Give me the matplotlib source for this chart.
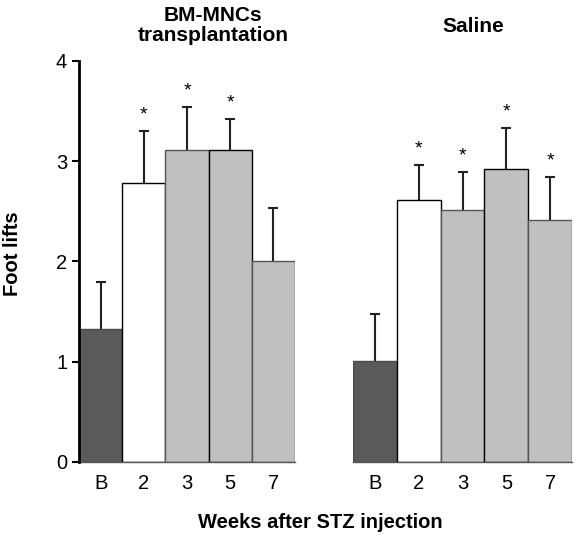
import numpy as np
import matplotlib.pyplot as plt

plt.rcParams['font.family'] = ['Liberation Sans', 'DejaVu Sans']

weeks = ['B', '2', '3', '5', '7']
bmmnc_mean = [1.33, 2.78, 3.11, 3.11, 2.00]
bmmnc_err = [0.47, 0.52, 0.43, 0.31, 0.53]
bmmnc_star = [False, True, True, True, False]
saline_mean = [1.01, 2.61, 2.51, 2.92, 2.41]
saline_err = [0.47, 0.35, 0.38, 0.41, 0.43]
saline_star = [False, True, True, True, True]

bar_colors = ['#5a5a5a', '#ffffff', '#c0c0c0', '#c0c0c0', '#c0c0c0']
edge_colors = ['#4a4a4a', '#000000', '#555555', '#000000', '#555555']

fig = plt.figure(figsize=(5.78, 5.39), dpi=100)
ax1 = fig.add_axes([0.1367, 0.1429, 0.3737, 0.744])
ax2 = fig.add_axes([0.6107, 0.1429, 0.3790, 0.744])


def draw_group(ax, mean, err, star):
    x = np.arange(len(weeks))
    ax.bar(x, mean, width=1.0, color=bar_colors, edgecolor=edge_colors,
           linewidth=1.0, zorder=2)
    eb = ax.errorbar(x, mean, yerr=[np.zeros(len(err)), err], fmt='none',
                     ecolor='#222222', elinewidth=1.5, capsize=3.6,
                     capthick=1.5, zorder=1)
    # only upper whiskers, hide the lower caps
    eb[1][0].set_visible(False)
    for xi, m, e, s in zip(x, mean, err, star):
        if s:
            ax.text(xi, m + e + 0.12, '*', ha='center', va='baseline',
                    fontsize=14)
    ax.set_xlim(-0.5, 4.5)
    ax.set_ylim(0, 4)
    ax.set_xticks(x)
    ax.set_xticklabels(weeks, fontsize=14.5)
    ax.tick_params(axis='x', length=0, pad=9)
    for side in ['top', 'right']:
        ax.spines[side].set_visible(False)
    ax.spines['bottom'].set_color('#555555')
    ax.spines['bottom'].set_linewidth(1.0)


draw_group(ax1, bmmnc_mean, bmmnc_err, bmmnc_star)
draw_group(ax2, saline_mean, saline_err, saline_star)

ax1.set_yticks([0, 1, 2, 3, 4])
ax1.tick_params(axis='y', labelsize=14.5, length=5, width=1.5,
                direction='out')
ax1.spines['left'].set_linewidth(2)
ax1.spines['left'].set_zorder(3)
ax1.set_ylabel('Foot lifts', fontsize=14.5, fontweight='bold')
ax1.yaxis.set_label_coords(-0.265, 0.52)

ax2.spines['left'].set_visible(False)
ax2.set_yticks([])

fig.text(0.369, 0.988, 'BM-MNCs\ntransplantation', ha='center', va='top',
         fontsize=15, fontweight='bold', linespacing=1.05)
fig.text(0.818, 0.950, 'Saline', ha='center', va='center',
         fontsize=15, fontweight='bold')
fig.text(0.555, 0.030, 'Weeks after STZ injection', ha='center',
         va='center', fontsize=14.5, fontweight='bold')

fig.savefig('out.png', dpi=100)
